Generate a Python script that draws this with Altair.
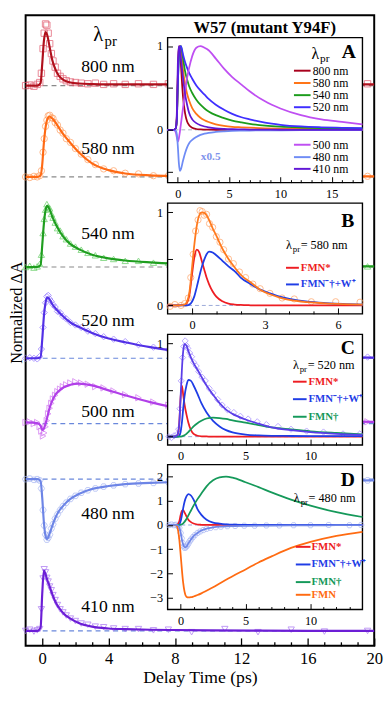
import altair as alt
import pandas as pd

# ===================== DATA =====================
# ---- main panel: normalized transient absorption, one trace per probe wavelength
probes = ["800 nm", "580 nm", "540 nm", "520 nm", "500 nm", "480 nm", "410 nm"]
offsets = [9.08, 7.60, 6.14, 4.66, 3.60, 2.70, 0.24]

fit_t = [-1, -0.3, -0.1, 0, 0.1, 0.2, 0.3, 0.45, 0.6, 0.8, 1.0, 1.3, 1.7, 2.2, 3, 4, 5, 6.5, 8, 10, 13, 16, 20]
fit_800 = [0, 0, 0.04, 0.35, 0.72, 0.87, 0.82, 0.62, 0.42, 0.26, 0.16, 0.09, 0.05, 0.035, 0.025, 0.02, 0.02, 0.02, 0.02, 0.02, 0.02, 0.02, 0.02]
fit_580 = [0, 0, 0.02, 0.2, 0.55, 0.8, 0.93, 0.98, 0.95, 0.88, 0.8, 0.68, 0.55, 0.4, 0.22, 0.11, 0.055, 0.025, 0.015, 0.01, 0.01, 0.01, 0.01]
fit_540 = [0, 0, 0.03, 0.35, 0.7, 0.92, 0.99, 0.93, 0.82, 0.7, 0.6, 0.48, 0.37, 0.29, 0.2, 0.14, 0.105, 0.075, 0.055, 0.04, 0.025, 0.015, 0.01]
fit_520 = [0, 0, 0.02, 0.3, 0.68, 0.9, 0.99, 0.95, 0.88, 0.81, 0.75, 0.67, 0.58, 0.51, 0.41, 0.32, 0.26, 0.18, 0.12, 0.07, 0.035, 0.02, 0.01]
fit_500 = [0.02, 0.01, -0.03, -0.1, -0.08, 0.0, 0.1, 0.26, 0.37, 0.47, 0.53, 0.59, 0.63, 0.65, 0.62, 0.54, 0.46, 0.35, 0.26, 0.17, 0.09, 0.05, 0.03]
fit_480 = [0, 0, -0.03, -0.3, -0.7, -0.92, -0.97, -0.88, -0.76, -0.62, -0.52, -0.42, -0.32, -0.24, -0.16, -0.11, -0.08, -0.06, -0.045, -0.035, -0.03, -0.025, -0.02]
fit_410 = [0, 0, 0.05, 0.6, 0.98, 0.92, 0.83, 0.72, 0.6, 0.47, 0.38, 0.28, 0.2, 0.13, 0.07, 0.04, 0.03, 0.02, 0.015, 0.01, 0.005, 0.0, 0.0]

pts_t = [-1.0, -0.75, -0.5, -0.3, -0.15, -0.05, 0.05, 0.12, 0.2, 0.28, 0.36, 0.45, 0.55, 0.65, 0.78, 0.92, 1.08, 1.25,
         1.45, 1.7, 2.0, 2.35, 2.75, 3.2, 3.7, 4.3, 5.0, 5.8, 6.7, 7.6, 9.0, 11.0, 13.0, 15.0, 17.0, 19.6]
pts_800 = [0.0, 0.01, -0.01, 0.02, 0.05, 0.2, 0.6, 0.85, 1.0, 0.98, 0.85, 0.68, 0.52, 0.4, 0.3, 0.2, 0.15, 0.11,
           0.08, 0.06, 0.05, 0.04, 0.03, 0.04, 0.02, 0.03, 0.02, 0.03, 0.02, 0.03, 0.02, 0.02, 0.02, 0.02, 0.02, 0.03]
pts_580 = [0.0, -0.01, 0.01, 0.0, 0.02, 0.1, 0.4, 0.62, 0.82, 0.92, 0.99, 1.0, 0.96, 0.95, 0.88, 0.84, 0.76, 0.71,
           0.62, 0.56, 0.46, 0.37, 0.28, 0.2, 0.13, 0.1, 0.06, 0.05, 0.02, 0.02, 0.01, 0.01, 0.0, 0.01, 0.0, 0.01]
pts_540 = [0.0, 0.02, -0.01, 0.01, 0.05, 0.2, 0.55, 0.78, 0.93, 1.02, 0.97, 0.95, 0.86, 0.8, 0.72, 0.63, 0.59, 0.5,
           0.45, 0.38, 0.33, 0.28, 0.23, 0.19, 0.15, 0.13, 0.1, 0.1, 0.07, 0.07, 0.05, 0.04, 0.03, 0.02, 0.02, 0.01]
pts_520 = [0.0, 0.01, 0.0, -0.01, 0.03, 0.15, 0.5, 0.74, 0.9, 1.0, 1.02, 0.96, 0.92, 0.87, 0.83, 0.76, 0.74, 0.68,
           0.64, 0.58, 0.54, 0.5, 0.44, 0.4, 0.35, 0.31, 0.27, 0.22, 0.18, 0.14, 0.1, 0.06, 0.04, 0.03, 0.02, 0.02]
pts_500 = [0.02, 0.03, 0.0, 0.02, -0.05, -0.12, -0.2, -0.15, -0.05, 0.05, 0.16, 0.25, 0.33, 0.4, 0.46, 0.52, 0.56, 0.6,
           0.63, 0.66, 0.68, 0.66, 0.64, 0.6, 0.58, 0.53, 0.47, 0.42, 0.35, 0.3, 0.22, 0.14, 0.1, 0.07, 0.05, 0.03]
pts_480 = [0.0, 0.01, -0.01, 0.0, -0.02, -0.15, -0.5, -0.75, -0.9, -0.98, -0.95, -0.9, -0.8, -0.73, -0.64, -0.57, -0.5, -0.44,
           -0.38, -0.32, -0.27, -0.22, -0.18, -0.15, -0.12, -0.1, -0.08, -0.07, -0.06, -0.05, -0.04, -0.03, -0.03, -0.02, -0.02, -0.02]
pts_410 = [0.0, 0.02, -0.01, 0.01, 0.03, 0.35, 0.85, 1.0, 0.95, 0.86, 0.8, 0.72, 0.66, 0.58, 0.5, 0.42, 0.35, 0.3,
           0.25, 0.2, 0.16, 0.12, 0.1, 0.07, 0.06, 0.04, 0.03, 0.03, 0.01, 0.02, -0.02, 0.03, -0.02, 0.02, -0.01, 0.0]

# ---- inset A: fitted kinetics (480 nm scaled x0.5)
a_t = [-1, -0.4, -0.2, -0.1, 0, 0.1, 0.2, 0.3, 0.5, 0.7, 0.9, 1.1, 1.4, 1.8, 2.2, 2.6, 3.0, 3.7, 4.5, 5.3, 6.2, 7.0, 8.5, 10, 12, 14, 16, 18]
a_800 = [0, 0, 0.02, 0.15, 0.65, 0.97, 1.0, 0.78, 0.4, 0.2, 0.1, 0.055, 0.025, 0.01, 0.005, 0.003, 0.002, 0, 0, 0, 0, 0, 0, 0, 0, 0, 0, 0]
a_580 = [0, 0, 0.02, 0.15, 0.62, 0.95, 1.0, 0.95, 0.72, 0.55, 0.43, 0.35, 0.26, 0.19, 0.145, 0.115, 0.093, 0.066, 0.047, 0.036, 0.03, 0.025, 0.018, 0.014, 0.011, 0.009, 0.008, 0.007]
a_540 = [0, 0, 0.02, 0.12, 0.55, 0.88, 0.98, 1.0, 0.86, 0.7, 0.6, 0.52, 0.44, 0.36, 0.3, 0.255, 0.22, 0.175, 0.14, 0.11, 0.088, 0.072, 0.05, 0.037, 0.027, 0.02, 0.017, 0.015]
a_520 = [0, 0, 0.02, 0.12, 0.55, 0.88, 0.99, 1.0, 0.9, 0.81, 0.74, 0.68, 0.61, 0.53, 0.47, 0.42, 0.37, 0.3, 0.24, 0.19, 0.15, 0.125, 0.085, 0.06, 0.04, 0.03, 0.024, 0.02]
a_500 = [0, 0, -0.03, -0.09, -0.14, -0.1, -0.02, 0.07, 0.26, 0.45, 0.62, 0.74, 0.88, 0.98, 1.0, 0.98, 0.95, 0.85, 0.73, 0.63, 0.54, 0.46, 0.34, 0.255, 0.175, 0.125, 0.095, 0.066]
a_480 = [0, 0, -0.01, -0.05, -0.2, -0.4, -0.49, -0.47, -0.37, -0.28, -0.21, -0.16, -0.12, -0.085, -0.06, -0.045, -0.035, -0.025, -0.018, -0.013, -0.01, -0.008, -0.006, -0.005, -0.004, -0.003, -0.003, -0.003]
a_410 = [0, 0, 0.02, 0.2, 0.8, 1.0, 0.95, 0.85, 0.62, 0.43, 0.3, 0.2, 0.125, 0.08, 0.055, 0.04, 0.03, 0.018, 0.011, 0.007, 0.005, 0.003, 0.002, 0.001, 0, 0, 0, 0]

# ---- species names
species = ["FMN*", "FMN⁻†+W⁺", "FMN†", "FMN"]

# ---- inset B: 580 nm
b_t = [-1, -0.5, -0.3, -0.2, -0.1, 0, 0.1, 0.2, 0.3, 0.4, 0.5, 0.6, 0.7, 0.85, 1.0, 1.25, 1.5, 1.75, 2.0, 2.4, 2.8, 3.2, 3.6, 4.0, 4.75, 5.5, 6.2, 7.0]
b_total = [0, 0, 0.01, 0.04, 0.15, 0.4, 0.66, 0.86, 0.97, 1.0, 0.995, 0.97, 0.92, 0.83, 0.75, 0.61, 0.5, 0.41, 0.33, 0.25, 0.17, 0.12, 0.085, 0.06, 0.035, 0.022, 0.015, 0.01]
b_fmn_star = [0, 0, 0.005, 0.03, 0.12, 0.33, 0.52, 0.6, 0.57, 0.48, 0.39, 0.3, 0.23, 0.15, 0.095, 0.045, 0.02, 0.01, 0.005, 0.002, 0.001, 0, 0, 0, 0, 0, 0, 0]
b_radical = [0, 0, 0, 0, 0.01, 0.04, 0.1, 0.2, 0.31, 0.41, 0.49, 0.55, 0.58, 0.57, 0.54, 0.48, 0.42, 0.37, 0.3, 0.23, 0.17, 0.13, 0.095, 0.07, 0.04, 0.025, 0.016, 0.01]
b_pts_t = [-0.9, -0.7, -0.45, -0.3, -0.15, -0.05, 0.05, 0.15, 0.25, 0.33, 0.42, 0.5, 0.6, 0.72, 0.85, 1.0, 1.15, 1.3, 1.5, 1.7, 1.95, 2.2, 2.5, 2.8, 3.2, 3.7, 4.2, 4.9, 5.9, 6.9]
b_pts = [-0.01, 0.01, 0.0, 0.02, 0.08, 0.3, 0.55, 0.8, 0.92, 1.02, 1.01, 0.97, 0.98, 0.88, 0.84, 0.74, 0.68, 0.6, 0.5, 0.45, 0.36, 0.3, 0.23, 0.18, 0.13, 0.08, 0.07, 0.04, 0.04, 0.035]

# ---- inset C: 520 nm
c_t = [-1, -0.5, -0.3, -0.2, -0.1, 0, 0.1, 0.2, 0.3, 0.45, 0.6, 0.8, 1.0, 1.3, 1.6, 2.0, 2.5, 3.0, 3.5, 4.0, 5.0, 6.0, 7.0, 8.5, 10, 12, 14]
c_total = [0, 0, 0.01, 0.04, 0.15, 0.42, 0.72, 0.92, 0.995, 0.98, 0.92, 0.85, 0.79, 0.72, 0.645, 0.55, 0.45, 0.36, 0.29, 0.245, 0.185, 0.14, 0.1, 0.07, 0.048, 0.03, 0.02]
c_fmn_star = [0, 0, 0.005, 0.03, 0.15, 0.42, 0.55, 0.45, 0.35, 0.24, 0.15, 0.07, 0.03, 0.01, 0.004, 0.002, 0, 0, 0, 0, 0, 0, 0, 0, 0, 0, 0]
c_radical = [0, 0, 0, 0, 0.01, 0.05, 0.15, 0.3, 0.43, 0.55, 0.61, 0.6, 0.55, 0.46, 0.36, 0.26, 0.17, 0.11, 0.07, 0.045, 0.022, 0.013, 0.009, 0.007, 0.006, 0.005, 0.005]
c_fmnh = [0, 0, 0, 0, 0, 0, 0.003, 0.008, 0.015, 0.03, 0.05, 0.08, 0.11, 0.145, 0.17, 0.195, 0.205, 0.2, 0.19, 0.175, 0.15, 0.125, 0.1, 0.078, 0.058, 0.04, 0.025]
c_pts_t = [-0.9, -0.7, -0.5, -0.3, -0.15, -0.05, 0.05, 0.15, 0.25, 0.35, 0.45, 0.55, 0.7, 0.85, 1.0, 1.2, 1.4, 1.65,
           1.9, 2.2, 2.5, 2.85, 3.2, 3.6, 4.1, 4.6, 5.2, 5.9, 6.6, 7.5, 8.5, 9.7, 11, 12.5, 13.8]
c_pts = [0.0, -0.01, 0.01, 0.02, 0.08, 0.3, 0.6, 0.85, 0.97, 1.03, 0.98, 0.95, 0.9, 0.86, 0.8, 0.76, 0.7, 0.64,
         0.6, 0.52, 0.47, 0.4, 0.34, 0.29, 0.26, 0.22, 0.19, 0.16, 0.13, 0.11, 0.08, 0.06, 0.05, 0.03, 0.03]

# ---- inset D: 480 nm
d_t = [-1, -0.5, -0.3, -0.2, -0.1, 0, 0.1, 0.2, 0.3, 0.45, 0.6, 0.8, 1.0, 1.3, 1.6, 2.0, 2.5, 3.0, 3.5, 4.0, 5.0, 6.0, 7.0, 8.5, 10, 12, 14]
d_fmn_star = [0, 0, 0.01, 0.04, 0.15, 0.4, 0.58, 0.62, 0.52, 0.36, 0.22, 0.12, 0.06, 0.02, 0.008, 0.002, 0, 0, 0, 0, 0, 0, 0, 0, 0, 0, 0]
d_radical = [0, 0, 0, 0, 0.02, 0.15, 0.4, 0.7, 0.95, 1.18, 1.28, 1.22, 1.05, 0.66, 0.42, 0.22, 0.1, 0.055, 0.025, 0.012, 0.004, 0, 0, 0, 0, 0, 0]
d_fmnh = [0, 0, 0, 0, 0, 0.01, 0.03, 0.07, 0.13, 0.25, 0.4, 0.6, 0.8, 1.07, 1.3, 1.6, 1.85, 1.97, 2.0, 1.96, 1.77, 1.57, 1.35, 1.05, 0.8, 0.53, 0.33]
d_fmn = [0, 0, -0.03, -0.2, -0.6, -1.2, -1.85, -2.4, -2.75, -2.97, -3.0, -2.99, -2.96, -2.9, -2.83, -2.72, -2.58, -2.42, -2.27, -2.12, -1.84, -1.55, -1.3, -0.95, -0.7, -0.45, -0.28]
d_total = [0, 0, 0, -0.02, -0.1, -0.3, -0.6, -0.82, -0.92, -0.9, -0.76, -0.6, -0.46, -0.33, -0.23, -0.15, -0.1, -0.07, -0.055, -0.045, -0.035, -0.03, -0.025, -0.02, -0.015, -0.01, -0.01]
d_pts_t = [-0.9, -0.7, -0.5, -0.35, -0.2, -0.1, 0.0, 0.08, 0.16, 0.24, 0.32, 0.4, 0.5, 0.6, 0.7, 0.8, 0.95, 1.1,
           1.3, 1.5, 1.75, 2.0, 2.3, 2.7, 3.1, 3.6, 4.2, 4.9, 5.7, 6.6, 7.6, 8.7, 10, 11.4, 13, 13.9]
d_pts = [0.0, 0.02, -0.01, 0.01, -0.04, -0.12, -0.33, -0.55, -0.75, -0.88, -0.95, -0.92, -0.86, -0.77, -0.67, -0.6, -0.5, -0.42,
         -0.33, -0.27, -0.21, -0.16, -0.12, -0.09, -0.07, -0.05, -0.04, -0.03, -0.03, -0.02, -0.02, -0.01, -0.01, 0.0, -0.01, 0.0]

# ===================== STYLE / LAYOUT =====================
FONT = "Liberation Serif"
W, H = 356, 644
UNIT = 63.0  # px per normalized unit in the main panel

LINE_COLORS = ["#b0101c", "#ff6a14", "#1f9e1f", "#5230e6", "#b13fe8", "#6d85e6", "#6c1ed6"]
PT_COLORS = ["#e0566b", "#ff9c5a", "#5ccc5c", "#8f73ff", "#cf70f0", "#a4b3f3", "#a570f2"]
DASH_COLORS = ["#8a8a8a", "#8a8a8a", "#8a8a8a", "#6a88dc", "#6a88dc", "#6a88dc", "#6a88dc"]
HEX = "M-1,0L-0.5,-0.866L0.5,-0.866L1,0L0.5,0.866L-0.5,0.866Z"
SHAPES = ["square", "circle", "triangle-up", "diamond", "triangle-right", HEX, "triangle-down"]
A_COLORS = ["#a8001c", "#ff7518", "#1c9c1c", "#3f2fff", "#bf4ff2", "#6f8cf5", "#6218d6"]
SP_COLORS = ["#ee1d23", "#1f3de6", "#15995a", "#ff6b12"]


def sc(domain, rng=None):
    kw = dict(domain=domain, nice=False, zero=False)
    if rng is not None:
        kw["range"] = rng
    return alt.Scale(**kw)


def enc(xs, ys, xf="t", yf="v", xaxis=None, yaxis=None):
    return dict(x=alt.X(f"{xf}:Q", scale=xs, axis=xaxis), y=alt.Y(f"{yf}:Q", scale=ys, axis=yaxis))


def text1(t, v, s, xs, ys, **mk):
    mk.setdefault("baseline", "middle")
    mk.setdefault("color", "black")
    df = pd.DataFrame({"t": [t], "v": [v], "s": [s]})
    return alt.Chart(df).mark_text(font=FONT, **mk).encode(**enc(xs, ys), text="s:N")


def lam(t, v, xs, ys, size, rest=None):
    out = [text1(t, v, "λ", xs, ys, fontSize=size, align="left"),
           text1(t, v, "pr", xs, ys, fontSize=round(size * 0.72, 1), align="left",
                 dx=round(size * 0.55, 1), dy=round(size * 0.3, 1))]
    if rest:
        out.append(text1(t, v, rest, xs, ys, fontSize=size, align="left", dx=round(size * 1.2, 1)))
    return out


def long_df(names, tt, arrays, offs=None):
    rows = []
    for i, (n, arr) in enumerate(zip(names, arrays)):
        o = offs[i] if offs else 0.0
        for t, v in zip(tt, arr):
            rows.append({"s": n, "t": t, "v": v + o})
    return pd.DataFrame(rows)


def cscale(domain, rng):
    return alt.Scale(domain=domain, range=rng)


layers = []

# ===================== MAIN PANEL =====================
MX = sc([-1, 20])
MY = sc([0, H / UNIT])

main_ticks = alt.Axis(orient="top", offset=-H, values=list(range(0, 21)), labels=False, domain=False,
                      grid=False, ticks=True, tickColor="black", tickWidth=1.3,
                      tickSize={"condition": {"test": "datum.value % 4 === 0", "value": 8}, "value": 4},
                      title=None, zindex=1)
main_labels = alt.Axis(orient="bottom", values=[0, 4, 8, 12, 16, 20], ticks=False, tickSize=0, domain=False,
                       grid=False, labelFont=FONT, labelFontSize=17, labelColor="black", labelPadding=5,
                       labelFlush=False, labelOverlap=False, format="d",
                       title="Delay Time (ps)", titleFont=FONT, titleFontSize=18, titleFontWeight="normal",
                       titleColor="black", titlePadding=3, zindex=1)

base_df = pd.DataFrame({"s": probes, "v": offsets, "t": [-0.5] * 7, "t1": [20] * 7})
layers.append(alt.Chart(base_df).mark_rule(strokeDash=[5, 4], strokeWidth=1.2).encode(
    **enc(MX, MY, xaxis=main_ticks), x2=alt.X2("t1"),
    color=alt.Color("s:N", scale=cscale(probes, DASH_COLORS), legend=None)))

layers.append(alt.Chart(long_df(probes, pts_t, [pts_800, pts_580, pts_540, pts_520, pts_500, pts_480, pts_410], offsets))
              .mark_point(filled=False, size=42, strokeWidth=1).encode(
    **enc(MX, MY),
    color=alt.Color("s:N", scale=cscale(probes, PT_COLORS), legend=None),
    shape=alt.Shape("s:N", scale=cscale(probes, SHAPES), legend=None)))

layers.append(alt.Chart(long_df(probes, fit_t, [fit_800, fit_580, fit_540, fit_520, fit_500, fit_480, fit_410], offsets))
              .mark_line(strokeWidth=2.2, interpolate="monotone").encode(
    **enc(MX, MY, xaxis=main_labels),
    color=alt.Color("s:N", scale=cscale(probes, LINE_COLORS), legend=None)))

lab_y = [9.38, 8.05, 6.68, 5.27, 3.79, 2.14, 0.63]
layers.append(alt.Chart(pd.DataFrame({"t": [3.96] * 7, "v": lab_y, "s": probes})).mark_text(
    font=FONT, fontSize=18, color="black", baseline="middle").encode(**enc(MX, MY), text="s:N"))
layers += lam(3.07, 9.9, MX, MY, 21)
layers.append(text1(-1.5, 5.40, "Normalized ΔA", MX, MY, fontSize=16.5, angle=270, align="center"))
layers.append(text1(13.4, 10.02, "W57 (mutant Y94F)", MX, MY, fontSize=17, fontWeight="bold", align="center"))


# ===================== INSET FRAMES & AXES =====================
def frame_layers(xd, yd, xr, yr, xlabels, ylabels, xticks, yticks, xmod, zero_color):
    xs, ys = sc(xd, xr), sc(yd, yr)
    lab_x = alt.Axis(orient="bottom", offset=yr[0] - H, values=xlabels, ticks=False, tickSize=0, domain=False,
                     grid=False, labelFont=FONT, labelFontSize=12.5, labelColor="black", labelPadding=5,
                     labelFlush=False, labelOverlap=False, format="d", title=None, zindex=2)
    lab_y = alt.Axis(orient="left", offset=-xr[0], values=ylabels, ticks=False, tickSize=0, domain=False,
                     grid=False, labelFont=FONT, labelFontSize=12.5, labelColor="black", labelPadding=5,
                     labelFlush=False, labelOverlap=False, format="d", title=None, zindex=2)
    tick_x = alt.Axis(orient="top", offset=-yr[0], values=xticks, labels=False, domain=False, grid=False,
                      tickColor="black", tickWidth=1,
                      tickSize={"condition": {"test": f"datum.value % {xmod} === 0", "value": 6}, "value": 3},
                      title=None, zindex=2)
    tick_y = alt.Axis(orient="right", offset=xr[0] - W, values=yticks, labels=False, domain=False, grid=False,
                      tickColor="black", tickWidth=1, tickSize=5, title=None, zindex=2)
    fr = pd.DataFrame({"t": [xd[0]], "t1": [xd[1]], "v": [yd[0]], "v1": [yd[1]]})
    out = [alt.Chart(fr).mark_rect(fill="white", stroke="black", strokeWidth=1.4).encode(
        **enc(xs, ys, xaxis=lab_x, yaxis=lab_y), x2=alt.X2("t1"), y2=alt.Y2("v1"))]
    z = pd.DataFrame({"t": [xd[0]], "t1": [xd[1]], "v": [0.0]})
    out.append(alt.Chart(z).mark_rule(strokeDash=[4, 3], strokeWidth=1, color=zero_color).encode(
        **enc(xs, ys, xaxis=tick_x, yaxis=tick_y), x2=alt.X2("t1")))
    return xs, ys, out


def legend_rules(names, colors, t0, t1, vs, xs, ys, width=2):
    df = pd.DataFrame({"s": names, "t": [t0] * len(names), "t1": [t1] * len(names), "v": vs})
    return alt.Chart(df).mark_rule(strokeWidth=width).encode(
        **enc(xs, ys), x2=alt.X2("t1"), color=alt.Color("s:N", scale=cscale(names, colors), legend=None))


def legend_texts(names, colors, t, vs, xs, ys, size, weight):
    df = pd.DataFrame({"s": names, "t": [t] * len(names), "v": vs})
    return alt.Chart(df).mark_text(font=FONT, fontSize=size, fontWeight=weight, align="left", baseline="middle").encode(
        **enc(xs, ys), text="s:N", color=alt.Color("s:N", scale=cscale(names, colors), legend=None))


XR = [145, 344]

# ---- Inset A
xs, ys, fl = frame_layers([-1, 18], [-0.63, 1.1], XR, [171, 23], [0, 5, 10, 15], [0, 1],
                          list(range(0, 19)), [-0.5, 0, 0.5, 1], 5, "#a9b3c3")
layers += fl
layers.append(alt.Chart(long_df(probes, a_t, [a_800, a_580, a_540, a_520, a_500, a_480, a_410]))
              .mark_line(strokeWidth=1.8, interpolate="monotone").encode(
    **enc(xs, ys), color=alt.Color("s:N", scale=cscale(probes, A_COLORS), legend=None)))
a_leg_v = [0.706, 0.559, 0.414, 0.27, -0.178, -0.326, -0.466]
layers.append(legend_rules(probes, A_COLORS, 11.32, 12.94, a_leg_v, xs, ys))
layers.append(legend_texts(probes, ["black"] * 7, 13.15, a_leg_v, xs, ys, 12, "normal"))
layers += lam(13.03, 0.90, xs, ys, 16)
layers.append(text1(16.66, 0.925, "A", xs, ys, fontSize=20, fontWeight="bold", align="center"))
layers.append(text1(3.2, -0.326, "x0.5", xs, ys, fontSize=11.5, fontWeight="bold", color="#7f93ec", align="center"))

# ---- Inset B
xs, ys, fl = frame_layers([-1, 7], [-0.09, 1.1], XR, [305, 192], [0, 3, 6], [0, 1],
                          list(range(0, 7)), [0, 0.5, 1], 3, "#9aa8d8")
layers += fl
layers.append(alt.Chart(pd.DataFrame({"t": b_pts_t, "v": b_pts})).mark_point(
    filled=False, size=40, strokeWidth=1, color="#ffa060", shape="circle").encode(**enc(xs, ys)))
b_names = species[:2] + ["total"]
layers.append(alt.Chart(long_df(b_names, b_t, [b_fmn_star, b_radical, b_total]))
              .mark_line(strokeWidth=1.8, interpolate="monotone").encode(
    **enc(xs, ys), color=alt.Color("s:N", scale=cscale(b_names, SP_COLORS[:2] + ["#ff7a1e"]), legend=None)))
layers.append(legend_rules(species[:2], SP_COLORS[:2], 3.86, 4.39, [0.405, 0.226], xs, ys))
layers.append(legend_texts(species[:2], SP_COLORS[:2], 4.47, [0.405, 0.226], xs, ys, 11, "bold"))
layers += lam(3.86, 0.647, xs, ys, 12.5, "= 580 nm")
layers.append(text1(6.40, 0.91, "B", xs, ys, fontSize=20, fontWeight="bold", align="center"))

# ---- Inset C
xs, ys, fl = frame_layers([-1, 14], [-0.09, 1.1], XR, [439, 326], [0, 5, 10], [0, 1],
                          list(range(0, 14)), [0, 0.5, 1], 5, "#9aa8d8")
layers += fl
layers.append(alt.Chart(pd.DataFrame({"t": c_pts_t, "v": c_pts})).mark_point(
    filled=False, size=40, strokeWidth=1, color="#9f86ff", shape="diamond").encode(**enc(xs, ys)))
c_names = species[:3] + ["total"]
layers.append(alt.Chart(long_df(c_names, c_t, [c_fmn_star, c_radical, c_fmnh, c_total]))
              .mark_line(strokeWidth=1.8, interpolate="monotone").encode(
    **enc(xs, ys), color=alt.Color("s:N", scale=cscale(c_names, SP_COLORS[:3] + ["#5b3ee8"]), legend=None)))
c_leg_v = [0.591, 0.403, 0.214]
layers.append(legend_rules(species[:3], SP_COLORS[:3], 8.65, 9.70, c_leg_v, xs, ys))
layers.append(legend_texts(species[:3], SP_COLORS[:3], 9.85, c_leg_v, xs, ys, 11, "bold"))
layers += lam(8.65, 0.77, xs, ys, 12.5, "= 520 nm")
layers.append(text1(12.87, 0.948, "C", xs, ys, fontSize=20, fontWeight="bold", align="center"))

# ---- Inset D
xs, ys, fl = frame_layers([-1, 14], [-3.5, 2.5], XR, [607, 459], [0, 5, 10], [-3, -2, -1, 0, 1, 2],
                          list(range(0, 14)), [-3, -2, -1, 0, 1, 2], 5, "#8fa3dd")
layers += fl
layers.append(alt.Chart(pd.DataFrame({"t": d_pts_t, "v": d_pts})).mark_point(
    filled=False, size=36, strokeWidth=1, color="#a6b4f4", shape=HEX).encode(**enc(xs, ys)))
d_names = species + ["total"]
layers.append(alt.Chart(long_df(d_names, d_t, [d_fmn_star, d_radical, d_fmnh, d_fmn, d_total]))
              .mark_line(strokeWidth=1.8, interpolate="monotone").encode(
    **enc(xs, ys), color=alt.Color("s:N", scale=cscale(d_names, SP_COLORS + ["#6f86e8"]), legend=None)))
d_leg_v = [-0.905, -1.635, -2.365, -2.89]
layers.append(legend_rules(species, SP_COLORS, 8.87, 10.0, d_leg_v, xs, ys))
layers.append(legend_texts(species, SP_COLORS, 10.08, d_leg_v, xs, ys, 11, "bold"))
layers += lam(8.72, 1.12, xs, ys, 12.5, "= 480 nm")
layers.append(text1(12.87, 1.85, "D", xs, ys, fontSize=20, fontWeight="bold", align="center"))

chart = (
    alt.layer(*layers)
    .resolve_scale(x="independent", y="independent", color="independent", shape="independent")
    .properties(width=W, height=H, autosize=alt.AutoSizeParams(type="none"),
                padding={"left": 18, "top": 0, "right": 10, "bottom": 44})
    .configure_view(stroke="black", strokeWidth=2)
    .configure_axis(grid=False)
)

chart.save("out.html", embed_options={"renderer": "svg", "actions": False})
